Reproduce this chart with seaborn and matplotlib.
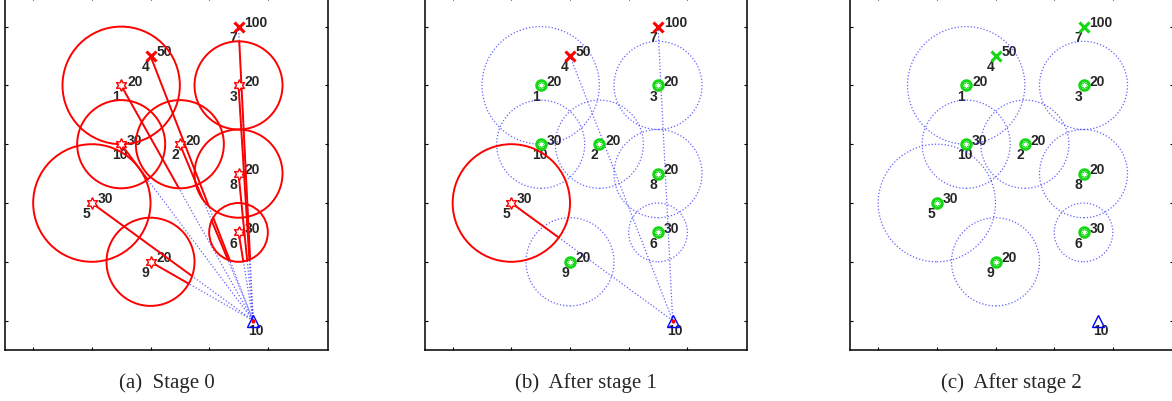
import numpy as np
import pandas as pd
import matplotlib
matplotlib.use('Agg')
import matplotlib.pyplot as plt
import seaborn as sns
from matplotlib.patches import Circle

# sensor nodes
node_id = [1, 2, 3, 4, 5, 6, 7, 8, 9, 10]
node_x = [250, 350, 450, 300, 200, 450, 450, 450, 300, 250]
node_y = [500, 400, 500, 550, 300, 250, 600, 350, 200, 400]
node_val = [20, 20, 20, 50, 30, 30, 100, 20, 20, 30]
node_r = [100, 75, 75, 0, 100, 50, 0, 75, 75, 75]

# sink
sink_x, sink_y, sink_val = 475, 100, 10

captions = ['(a)  Stage 0', '(b)  After stage 1', '(c)  After stage 2']
done = [[], [1, 2, 3, 6, 8, 9, 10], [1, 2, 3, 4, 5, 6, 7, 8, 9, 10]]
red_circ = [[1, 2, 3, 5, 6, 8, 9, 10], [5], []]
routes = [[1, 2, 3, 4, 5, 6, 7, 8, 9, 10], [4, 5, 7], []]

sns.set_style('ticks', {'xtick.direction': 'in', 'ytick.direction': 'in'})
plt.rcParams['font.family'] = ['Liberation Sans', 'DejaVu Sans']

GREEN = '#14d814'
BLUE = '#3a3aff'
dots = (0, (1, 1.6))

nodes = pd.DataFrame({'id': node_id, 'x': node_x, 'y': node_y,
                      'val': node_val, 'r': node_r}).set_index('id')


def red_runs(x0, y0, circles):
    # parts of the straight route node -> sink that lie inside a red circle
    t = np.linspace(0, 1, 3000)
    px = x0 + (sink_x - x0) * t
    py = y0 + (sink_y - y0) * t
    inside = np.zeros_like(t, dtype=bool)
    for c in circles:
        cx, cy, cr = nodes.loc[c, 'x'], nodes.loc[c, 'y'], nodes.loc[c, 'r']
        inside |= (px - cx) ** 2 + (py - cy) ** 2 <= cr ** 2
    runs = []
    i = 0
    while i < len(t):
        if inside[i]:
            j = i
            while j + 1 < len(t) and inside[j + 1]:
                j += 1
            runs.append((px[i], py[i], px[j], py[j]))
            i = j + 1
        else:
            i += 1
    return runs


fig = plt.figure(figsize=(11.72, 4.02), dpi=100)
lefts = [5, 424.5, 850]

for k in range(3):
    ax = fig.add_axes([lefts[k] / 1172, 51 / 402, 322.7 / 1172, 352.8 / 402])

    # dotted routes to the sink
    rows = []
    for n in routes[k]:
        rows.append({'node': n, 'x': nodes.loc[n, 'x'], 'y': nodes.loc[n, 'y']})
        rows.append({'node': n, 'x': sink_x, 'y': sink_y})
    if rows:
        sns.lineplot(data=pd.DataFrame(rows), x='x', y='y', units='node',
                     estimator=None, sort=False, color=BLUE, lw=0.9,
                     linestyle=dots, alpha=0.8, ax=ax, zorder=2)

    # red parts of routes
    segs = []
    for n in routes[k]:
        for m, (a, b, c, d) in enumerate(red_runs(nodes.loc[n, 'x'], nodes.loc[n, 'y'], red_circ[k])):
            segs.append({'seg': f'{n}_{m}', 'x': a, 'y': b})
            segs.append({'seg': f'{n}_{m}', 'x': c, 'y': d})
    if segs:
        sns.lineplot(data=pd.DataFrame(segs), x='x', y='y', units='seg',
                     estimator=None, sort=False, color='red', lw=1.4,
                     ax=ax, zorder=3)

    # charging ranges
    for n in node_id:
        r = nodes.loc[n, 'r']
        if r == 0:
            continue
        if n in red_circ[k]:
            ax.add_patch(Circle((nodes.loc[n, 'x'], nodes.loc[n, 'y']), r, fill=False,
                                ec='red', lw=1.4, zorder=3))
        else:
            ax.add_patch(Circle((nodes.loc[n, 'x'], nodes.loc[n, 'y']), r, fill=False,
                                ec=BLUE, lw=0.9, ls=dots, alpha=0.8, zorder=2))

    # node markers and labels
    for n in node_id:
        x, y = nodes.loc[n, 'x'], nodes.loc[n, 'y']
        col = GREEN if n in done[k] else 'red'
        if nodes.loc[n, 'r'] == 0:
            ax.plot(x, y, marker='x', ms=6.5, mew=2.2, color=col, ls='none', zorder=5)
        elif n in done[k]:
            ax.plot(x, y, marker='o', ms=7, mew=2, mec=GREEN, mfc='white', ls='none', zorder=5)
            ax.plot(x, y, marker=(6, 1, 0), ms=6, mew=0.6, mec=GREEN, mfc='white', ls='none', zorder=6)
        else:
            ax.plot(x, y, marker=(6, 1, 0), ms=8.5, mew=1, mec='red', mfc='white', ls='none', zorder=5)
        ax.text(x + 10, y + 1, str(nodes.loc[n, 'val']), fontsize=10, fontweight='bold',
                va='baseline', ha='left', zorder=1)
        ax.text(x - 15, y - 24, str(n), fontsize=10, fontweight='bold',
                va='baseline', ha='left', zorder=1)

    # sink
    ax.plot(sink_x, sink_y, marker='^', ms=8, mew=1, mec='blue', mfc='none', ls='none', zorder=5)
    if k < 2:
        ax.plot(sink_x, sink_y, marker='o', ms=2, color='red', ls='none', zorder=6)
    ax.text(sink_x - 9, sink_y - 22, str(sink_val), fontsize=10, fontweight='bold',
            va='baseline', ha='left', zorder=1)

    ax.set_xlim(52, 602)
    ax.set_ylim(50, 650)
    ax.set_xticks([100, 200, 300, 400, 500])
    ax.set_yticks([100, 200, 300, 400, 500, 600])
    ax.set_xticklabels([])
    ax.set_yticklabels([])
    ax.set_xlabel('')
    ax.set_ylabel('')
    ax.tick_params(direction='in', length=2.5, width=0.8, top=True, right=True, colors='black')
    for s in ax.spines.values():
        s.set_visible(True)
        s.set_linewidth(1.1)
        s.set_color('black')

    fig.text((lefts[k] + 161.4) / 1172, 19 / 402, captions[k], ha='center', va='center',
             family='Liberation Serif', fontsize=15)

fig.savefig('out.png', dpi=100)
